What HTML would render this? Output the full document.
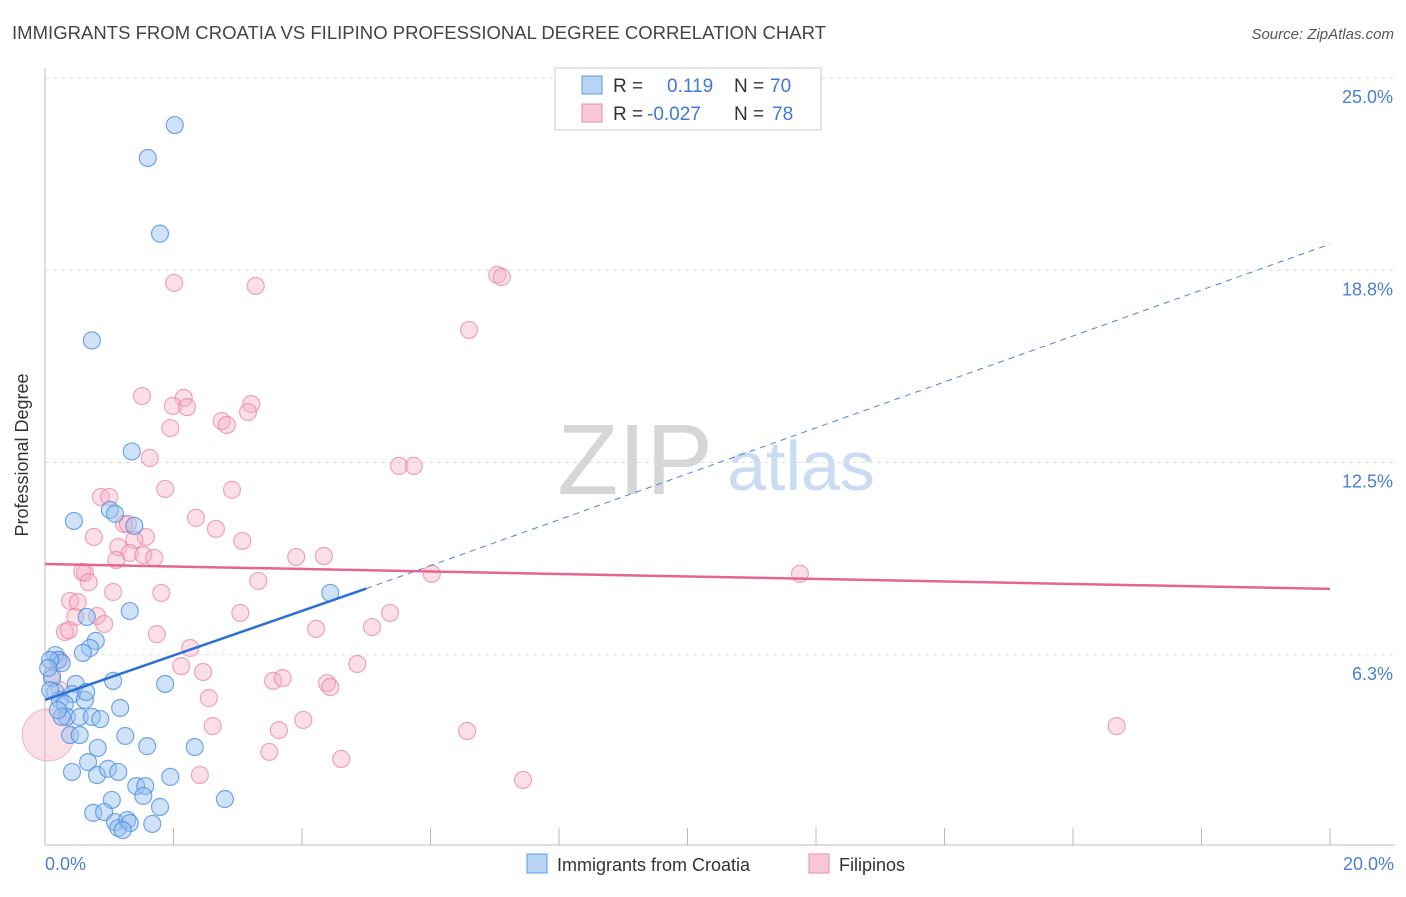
<!DOCTYPE html>
<html><head><meta charset="utf-8"><style>
body{margin:0;background:#fff;font-family:"Liberation Sans",sans-serif}
svg text{font-family:"Liberation Sans",sans-serif}
</style></head><body>
<svg id="c" width="1406" height="892" xmlns="http://www.w3.org/2000/svg">
<text x="12" y="39" font-size="18.5" fill="#444" textLength="814">IMMIGRANTS FROM CROATIA VS FILIPINO PROFESSIONAL DEGREE CORRELATION CHART</text>
<text x="1394" y="39" font-size="15" fill="#555" font-style="italic" text-anchor="end">Source: ZipAtlas.com</text>
<text x="635" y="494" font-size="100" fill="#d6d6d6" font-family="Liberation Serif,serif" text-anchor="middle">ZIP</text>
<text x="801" y="490" font-size="70" fill="#c9dcf3" text-anchor="middle">atlas</text>
<g id="grid"></g><g id="pts"></g><g id="lines"></g>
<text x="28" y="455" font-size="18" fill="#333" text-anchor="middle" transform="rotate(-90 28 455)">Professional Degree</text>
<text x="45" y="870" font-size="18" fill="#4a7fd4">0.0%</text>
<text x="1394" y="870" font-size="18" fill="#4a7fd4" text-anchor="end">20.0%</text>
<g>
<rect x="555" y="68" width="266" height="62" fill="#fff" stroke="#ccc"/>
<rect x="582" y="76" width="20" height="18" fill="#b9d3f4" stroke="#5b9be6"/>
<rect x="582" y="104" width="20" height="18" fill="#f9c8d6" stroke="#e88aa6"/>
<text x="613" y="92" font-size="19" fill="#333">R = </text><text x="667" y="92" font-size="19" fill="#3d78d8">0.119</text>
<text x="734" y="92" font-size="19" fill="#333">N = </text><text x="770" y="92" font-size="19" fill="#3d78d8">70</text>
<text x="613" y="120" font-size="19" fill="#333">R = </text><text x="647" y="120" font-size="19" fill="#3d78d8">-0.027</text>
<text x="734" y="120" font-size="19" fill="#333">N = </text><text x="772" y="120" font-size="19" fill="#3d78d8">78</text>
</g>
<g>
<rect x="527" y="854" width="20" height="19" fill="#b9d3f4" stroke="#5b9be6"/>
<text x="557" y="871" font-size="18" fill="#333">Immigrants from Croatia</text>
<rect x="809" y="854" width="20" height="19" fill="#f9c8d6" stroke="#e88aa6"/>
<text x="839" y="871" font-size="18" fill="#333">Filipinos</text>
</g>
</svg>
<script>
const yTicks=[6.25,12.5,18.75,25];
const yTickLabels=["6.3%","12.5%","18.8%","25.0%"];
const xTicks=[2,4,6,8,10,12,14,16,18,20];
const blueX=[2.02,1.60,1.79,0.73,1.35,0.45,1.01,1.09,1.39,1.32,4.44,0.65,0.79,0.70,0.59,0.16,0.20,0.26,0.08,0.11,0.48,1.06,1.87,0.16,0.42,0.62,0.23,0.31,0.64,1.17,0.34,0.54,0.73,0.86,0.26,1.25,0.39,0.54,1.59,2.33,0.82,0.42,0.67,0.81,0.98,1.14,1.95,1.42,1.56,1.53,1.04,2.80,1.79,0.75,0.92,1.09,1.14,1.28,1.32,1.21,1.67,0.08,0.05,0.20];
const blueY=[23.47,22.40,19.94,16.47,12.86,10.60,10.96,10.83,10.44,7.67,8.26,7.48,6.70,6.47,6.31,6.24,6.08,5.98,6.08,5.49,5.30,5.40,5.30,5.04,4.97,4.78,4.78,4.65,5.04,4.52,4.23,4.23,4.23,4.16,4.23,3.61,3.64,3.64,3.28,3.25,3.22,2.44,2.76,2.34,2.54,2.44,2.28,1.98,1.98,1.66,1.53,1.56,1.30,1.11,1.14,0.81,0.62,0.88,0.78,0.55,0.75,5.10,5.82,4.45];
const pinkX=[2.01,3.28,7.04,7.11,6.60,1.51,2.16,1.99,2.21,3.21,3.16,2.75,2.83,1.95,1.63,1.87,2.91,5.51,5.74,0.87,1.00,1.23,1.29,2.35,2.66,0.76,1.57,1.39,3.07,1.14,1.32,1.53,1.70,1.11,3.91,4.34,0.62,0.58,0.68,3.32,6.02,11.75,1.06,1.81,0.39,0.51,0.47,0.81,0.92,3.04,5.37,0.31,0.37,1.74,4.22,5.09,2.26,2.12,2.46,4.86,3.55,3.70,4.39,4.44,2.55,4.02,2.61,3.64,6.57,16.68,3.49,4.61,2.41,7.44,0.23,0.11,0.23];
const pinkY=[18.34,18.24,18.60,18.53,16.81,14.66,14.60,14.34,14.30,14.40,14.14,13.85,13.72,13.62,12.65,11.64,11.61,12.39,12.39,11.38,11.38,10.50,10.50,10.70,10.34,10.08,10.08,9.98,9.95,9.75,9.56,9.49,9.40,9.33,9.43,9.46,8.91,8.94,8.61,8.65,8.88,8.88,8.29,8.26,8.00,7.96,7.48,7.51,7.25,7.61,7.61,6.99,7.05,6.92,7.09,7.15,6.47,5.88,5.69,5.95,5.40,5.49,5.33,5.20,4.84,4.13,3.93,3.80,3.77,3.93,3.09,2.86,2.34,2.18,6.08,5.59,5.10];
const bigPink=[0.05,3.64];
const blueTrend=[0,4.78,5.0,8.4,20,19.6];
const pinkTrend=[0,9.2,20,8.39];
const X=v=>45+v*64.25, Y=v=>847-v*30.76;
const NS="http://www.w3.org/2000/svg";
function mk(p,t,a){const e=document.createElementNS(NS,t);for(const k in a)e.setAttribute(k,a[k]);document.getElementById(p).appendChild(e);return e;}
yTicks.forEach((t,i)=>{
 let l=mk('grid','line',{x1:45,x2:1395,y1:Y(t),y2:Y(t),stroke:'#ddd','stroke-dasharray':'4,4'});
 
 
 let tx=mk('grid','text',{x:1393,y:Y(t)+25,'font-size':18,fill:'#4a7fd4','text-anchor':'end'});tx.textContent=yTickLabels[i];
 
 
});
let ax=mk('grid','line',{x1:45,x2:45,y1:68,y2:845,stroke:'#bbb'});


let bx=mk('grid','line',{x1:45,x2:1395,y1:845,y2:845,stroke:'#bbb'});


xTicks.forEach(t=>{let l=mk('grid','line',{x1:X(t),x2:X(t),y1:828,y2:845,stroke:'#bbb'});
 
 });
let bp=mk('pts','circle',{cx:X(bigPink[0]),cy:Y(bigPink[1]),r:26,fill:'rgba(245,175,195,0.4)',stroke:'rgba(232,138,166,0.6)'});


pinkX.forEach((x,i)=>{let c=mk('pts','circle',{cx:X(x),cy:Y(pinkY[i]),r:8.5,fill:'rgba(245,175,195,0.4)',stroke:'rgba(232,130,160,0.7)','stroke-width':1.2});
 
 });
blueX.forEach((x,i)=>{let c=mk('pts','circle',{cx:X(x),cy:Y(blueY[i]),r:8.5,fill:'rgba(150,190,240,0.45)',stroke:'rgba(70,140,225,0.75)','stroke-width':1.2});
 
 });
let d=mk('lines','line',{x1:X(blueTrend[2]),y1:Y(blueTrend[3]),x2:X(blueTrend[4]),y2:Y(blueTrend[5]),stroke:'#4a84d8','stroke-width':1,'stroke-dasharray':'6,5'});


let b=mk('lines','line',{x1:X(blueTrend[0]),y1:Y(blueTrend[1]),x2:X(blueTrend[2]),y2:Y(blueTrend[3]),stroke:'#2a6fd6','stroke-width':2.5});


let p=mk('lines','line',{x1:X(pinkTrend[0]),y1:Y(pinkTrend[1]),x2:X(pinkTrend[2]),y2:Y(pinkTrend[3]),stroke:'#e4668f','stroke-width':2.5});


</script>
</body></html>
